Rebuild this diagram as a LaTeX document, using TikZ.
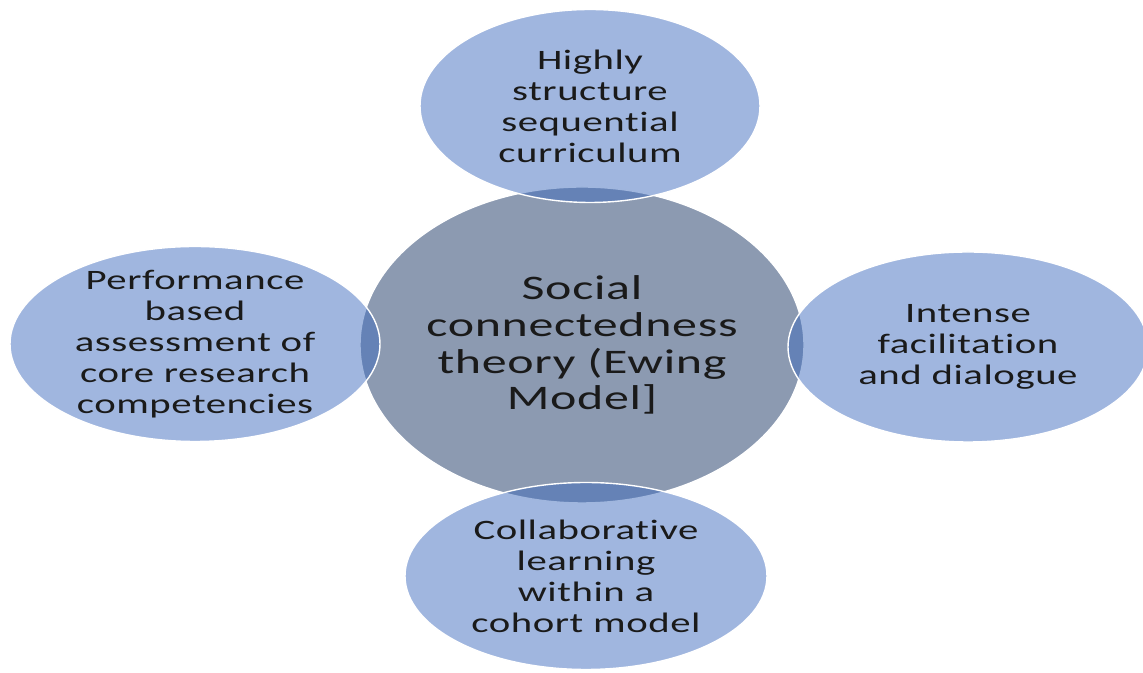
\documentclass[tikz,border=0pt]{standalone}
\usepackage{fontspec}
\setmainfont[FakeStretch=1.45, Ligatures=NoCommon, LetterSpace=2]{Carlito}
\usetikzlibrary{shapes.geometric}
\definecolor{hubgray}{HTML}{8C9AB1}
\definecolor{petalblue}{RGB}{62,107,189}
\definecolor{ink}{HTML}{1A1A1A}
\tikzset{
  hub/.style={ellipse, draw=white, line width=0.8pt, fill=hubgray, inner sep=0pt},
  bubble/.style={ellipse, draw=white, line width=0.8pt, fill=petalblue, fill opacity=0.49,
                 draw opacity=1, inner sep=0pt},
  lbl/.style={align=center, text=ink, font=\fontsize{16}{17.6}\selectfont},
  hublbl/.style={align=center, text=ink, font=\fontsize{19.6}{21}\selectfont},
}
\begin{document}
\begin{tikzpicture}
  \useasboundingbox (0,0) rectangle (22.86,13.46);
  % centre and the four surrounding ideas
  \node[hub, minimum width=8.88cm, minimum height=6.32cm] (hub) at (11.64,6.56) {};
  \node[bubble, minimum width=6.80cm, minimum height=3.86cm] (top) at (11.80,11.34) {};
  \node[bubble, minimum width=7.40cm, minimum height=3.90cm] (left) at (3.90,6.58) {};
  \node[bubble, minimum width=7.20cm, minimum height=3.80cm] (right) at (19.36,6.52) {};
  \node[bubble, minimum width=7.24cm, minimum height=3.74cm] (bottom) at (11.72,1.94) {};
  % labels
  \node[hublbl] (hubtxt) at (hub) {Social\\connectedness\\theory (Ewing\\Model]};
  \node[lbl] (toptxt) at (top) {Highly\\structure\\sequential\\curriculum};
  \node[lbl] (lefttxt) at (left) {Performance\\based\\assessment of\\core research\\competencies};
  \node[lbl] (righttxt) at (right) {Intense\\facilitation\\and dialogue};
  \node[lbl] (bottomtxt) at (bottom) {Collaborative\\learning\\within a\\cohort model};
\end{tikzpicture}
\end{document}
